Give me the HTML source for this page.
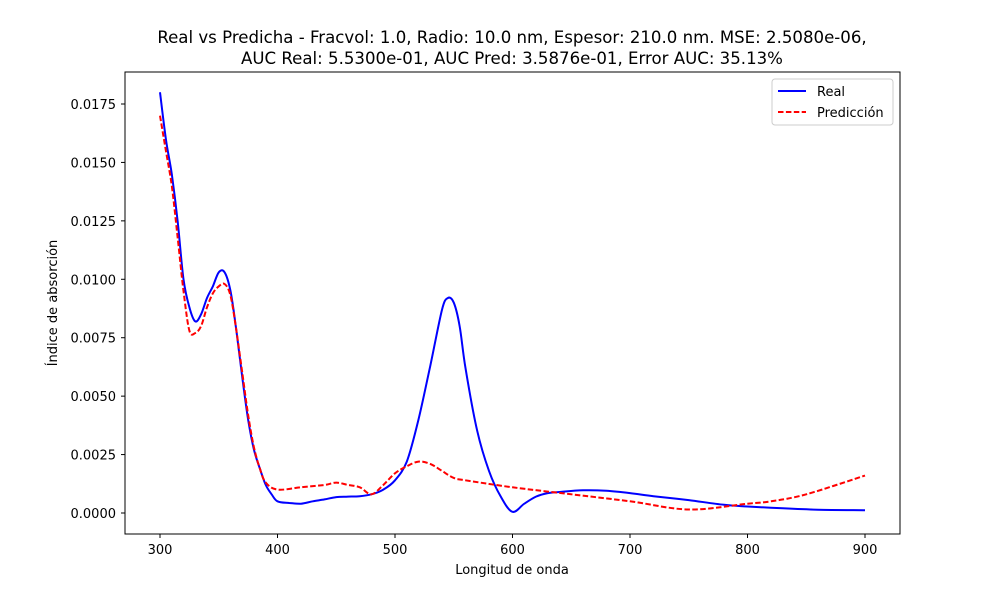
<!DOCTYPE html>
<html><head><meta charset="utf-8"><style>
body{margin:0;background:#fff}
svg text{font-family:"DejaVu Sans","Liberation Sans",sans-serif;fill:#000}
</style></head><body>
<svg id="chart" width="1000" height="600" xmlns="http://www.w3.org/2000/svg">
<text x="512" y="43" font-size="16.6" text-anchor="middle">Real vs Predicha - Fracvol: 1.0, Radio: 10.0 nm, Espesor: 210.0 nm. MSE: 2.5080e-06,</text>
<text x="512" y="64" font-size="16.6" text-anchor="middle">AUC Real: 5.5300e-01, AUC Pred: 3.5876e-01, Error AUC: 35.13%</text>
<g id="ticks"></g>
<g id="series"></g>
<rect x="125" y="72" width="775" height="462" fill="none" stroke="#000" stroke-width="1"/>
<text x="512" y="574" font-size="13" text-anchor="middle">Longitud de onda</text>
<text transform="translate(57,303) rotate(-90)" font-size="13" text-anchor="middle">Índice de absorción</text>
<g>
<rect x="772" y="79" width="121" height="46" fill="#fff" stroke="#ccc" rx="3"/>
<line x1="778" y1="91" x2="806" y2="91" stroke="#0000ff" stroke-width="2"/>
<text x="817" y="96" font-size="13">Real</text>
<line x1="778" y1="112" x2="806" y2="112" stroke="#ff0000" stroke-width="2" stroke-dasharray="5.5,2.4"/>
<text x="817" y="117" font-size="13">Predicción</text>
</g>
</svg>
<script>
const xTicks=[300,400,500,600,700,800,900];
const yTicks=[0,0.0025,0.005,0.0075,0.01,0.0125,0.015,0.0175];
const yTickLabels=["0.0000","0.0025","0.0050","0.0075","0.0100","0.0125","0.0150","0.0175"];
const realX=[300,305,310,315,320,325,330,335,340,345,350,355,360,365,370,375,380,385,390,395,400,410,420,430,440,450,460,470,480,490,500,510,520,530,540,545,550,555,560,570,580,590,600,610,620,630,640,660,680,700,720,750,780,800,830,860,900];
const realY=[0.018,0.016,0.0145,0.0125,0.01,0.0088,0.0082,0.0085,0.0092,0.0097,0.0103,0.0103,0.0095,0.0078,0.0058,0.004,0.0027,0.0019,0.0012,0.0008,0.0005,0.00043,0.0004,0.0005,0.00058,0.00068,0.0007,0.00072,0.0008,0.001,0.0014,0.0022,0.004,0.0063,0.0087,0.0092,0.009,0.008,0.0062,0.0035,0.0018,0.0007,0.00005,0.0004,0.0007,0.00085,0.0009,0.00097,0.00095,0.00085,0.00072,0.00055,0.00035,0.00028,0.0002,0.00014,0.00012];
const predX=[300,305,310,315,320,325,330,335,340,345,350,355,360,365,370,375,380,385,390,400,420,440,450,460,470,480,490,500,510,520,530,540,550,560,600,650,700,750,800,820,850,900];
const predY=[0.017,0.0155,0.014,0.0118,0.0095,0.0078,0.0077,0.008,0.0088,0.0094,0.0097,0.0098,0.0093,0.0078,0.006,0.0042,0.0028,0.0019,0.0013,0.001,0.0011,0.0012,0.0013,0.0012,0.0011,0.0008,0.0012,0.0017,0.002,0.0022,0.0021,0.0018,0.0015,0.0014,0.0011,0.0008,0.0005,0.00015,0.0004,0.0005,0.0008,0.0016];
const NS="http://www.w3.org/2000/svg";
const sx=v=>160+(v-300)*705/600;
const sy=v=>513-v*409/0.0175;
const tg=document.getElementById('ticks');
function mk(tag,attrs,parent){const e=document.createElementNS(NS,tag);for(const k in attrs)e.setAttribute(k,attrs[k]);parent.appendChild(e);return e;}
xTicks.forEach(t=>{
 const l=mk('line',{x1:sx(t),x2:sx(t),y1:534,y2:538,stroke:'#000'},tg);
 
 
 const tx=mk('text',{x:sx(t),y:554,'font-size':13,'text-anchor':'middle'},tg);tx.textContent=t;
 
 
});
yTicks.forEach((t,i)=>{
 const l=mk('line',{x1:121,x2:125,y1:sy(t),y2:sy(t),stroke:'#000'},tg);
 
 
 const tx=mk('text',{x:116,y:sy(t)+5,'font-size':13,'text-anchor':'end'},tg);tx.textContent=yTickLabels[i];
 
 
});
const sg=document.getElementById('series');
function smooth(xs,ys){
 const P=xs.map((x,i)=>[sx(x),sy(ys[i])]);
 let d='M'+P[0][0].toFixed(1)+','+P[0][1].toFixed(1);
 for(let i=0;i<P.length-1;i++){
  const p0=P[Math.max(0,i-1)],p1=P[i],p2=P[i+1],p3=P[Math.min(P.length-1,i+2)];
  const c1=[p1[0]+(p2[0]-p0[0])/6,p1[1]+(p2[1]-p0[1])/6];
  const c2=[p2[0]-(p3[0]-p1[0])/6,p2[1]-(p3[1]-p1[1])/6];
  d+=' C'+c1.map(v=>v.toFixed(1))+' '+c2.map(v=>v.toFixed(1))+' '+p2.map(v=>v.toFixed(1));
 }
 return d;
}
const r=mk('path',{d:smooth(realX,realY),fill:'none',stroke:'#0000ff','stroke-width':2,'stroke-linejoin':'round'},sg);


const p=mk('path',{d:smooth(predX,predY),fill:'none',stroke:'#ff0000','stroke-width':2,'stroke-dasharray':'5.5,2.4','stroke-linejoin':'round'},sg);


</script>
</body></html>
